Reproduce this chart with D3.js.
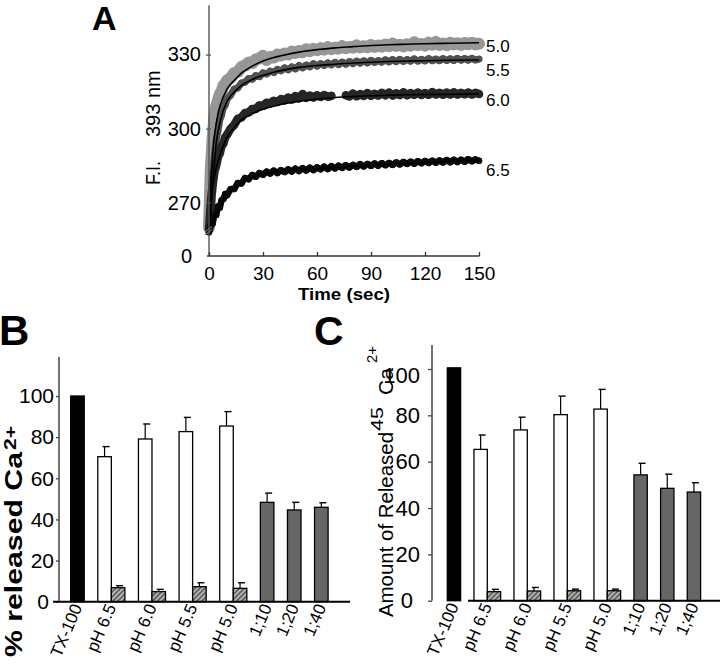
<!DOCTYPE html>
<html><head><meta charset="utf-8">
<script src="https://cdn.jsdelivr.net/npm/d3@7"></script>
<style>
body{margin:0;background:#fff;}
svg{display:block;}
text{font-family:"Liberation Sans",Arial,Helvetica,sans-serif;fill:#000;}
</style></head><body>
<svg id="chart" width="720" height="664"></svg>
<script>
// ---------- Panel A data ----------
const timeData = [0,1,2,3,4,5,6,7,8,9,10,
 12,14,16,18,20,22,24,26,28,30,
 32,34,36,38,40,42,44,46,48,50,
 52,54,56,58,60,62,64,66,68,70,
 72,74,76,78,80,82,84,86,88,90,
 92,94,96,98,100,102,104,106,108,110,
 112,114,116,118,120,122,124,126,128,130,
 132,134,136,138,140,142,144,146,148,150];
const fi50 = [260,283,296,305,309,311.5,314,315,317.5,318,319.5,
 320.5,322.5,323,325,325.5,326.8,326.5,328,328.4,329.5,
 327.8,329.1,328.8,330,329.6,330.4,330,331.2,330.6,331.4,
 331,332.1,331.4,332.3,331.8,332.6,332,333,332.2,332.8,
 332.4,333.4,332.6,333.1,332.8,333.7,332.9,333.4,333,333.9,
 333.1,333.7,333.2,334.1,333.4,334.4,333.5,334,333.3,334.2,
 333.6,335,333.8,334.3,333.6,334.8,334,335.1,333.9,334.5,
 333.8,334.8,334.1,334.6,333.9,334.7,334.2,334.8,334.1,334.4];
const fi55 = [259,270,281,289,295.5,299,303.5,305.5,308.5,309.5,312,
 313.5,316,316.5,318.5,318.8,320.3,320,321.5,321,322.6,
 322.1,323.3,322.7,324,323.4,324.6,323.8,325,324.2,325.6,
 324.6,325.8,325,326.3,325.3,326.4,325.6,326.7,325.8,326.9,
 325.9,327,326.1,327.2,326.3,327.4,326.5,327.5,326.6,327.7,
 326.8,327.6,326.9,327.9,327,328,327.1,328.1,327.2,328,
 327.3,328.3,327.3,328.1,327.4,328.4,327.5,328.2,327.5,328.4,
 327.6,328.3,327.6,328.5,327.7,328.4,327.7,328.5,327.8,328.2];
const fi60 = [259,270,277,282.5,285,288.5,290,293,294,296.5,297.5,
 300,301.5,304,304.5,306.3,306.5,308,308,309.4,309.3,
 310.5,310.2,311.3,310.8,312,311.4,312.6,311.8,313.2,312.3,
 314,312.5,313.4,312.6,313.5,312.8,313.6,312.9,313.3,null,
 null,null,313.5,313,314.2,313.1,314,313.2,314.4,313.3,
 314.1,313.4,314.5,313.5,314.6,313.4,314.3,313.6,314.7,313.5,
 314.4,313.7,314.6,313.6,314.4,313.7,314.8,313.8,314.5,313.7,
 314.6,313.8,314.7,313.8,314.5,313.9,314.6,313.8,314.5,314];
const fi65 = [258,261,261.5,265,265,268.5,268,271,271.5,273.5,273,
 275.5,275.5,278,277.8,280,279.5,281.2,280.5,282,281.3,
 282.6,281.8,283,282,283.2,282.4,283.5,282.6,283.8,282.8,
 284,283,284.2,283.2,284.3,283.5,284.6,283.6,284.8,283.9,
 285,284.1,285.2,284.3,285.3,284.5,285.6,284.7,285.7,284.9,
 285.9,285,286,285.2,286.1,285.3,286.3,285.5,286.5,285.7,
 286.6,285.8,286.8,286,286.9,286.1,287,286.2,287.1,286.3,
 287.3,286.4,287.4,286.5,287.4,286.6,287.6,286.8,287.5,287];
const timeFit = [0,1,2,3,4,5,6,7,8,9,10,12,14,16,18,20,24,28,32,36,40,50,60,70,80,90,100,110,120,135,150];
const fit50 = [258,276,289,297,302,306,309,311,313,314.5,316,318,319.5,321,322.5,323.5,325.3,326.8,327.9,328.8,329.5,331,332,332.7,333.2,333.7,334,334.2,334.4,334.6,334.8];
const fit55 = [258,268,278,286,294,298.5,302,305,307.5,309.3,311,313.2,314.8,316.2,317.4,318.4,319.9,321.1,322,322.8,323.5,324.8,325.6,326.1,326.6,326.9,327.2,327.4,327.5,327.7,327.8];
const fit60 = [258,268,276,280.5,284,286.8,289,291.2,293,294.8,296.5,298.5,300.5,302.2,303.5,304.5,306,307.3,308.3,309.1,309.8,311,312,312.6,313,313.3,313.5,313.7,313.8,313.9,314];
const fit65 = [259,260.5,262,263.8,265.5,267,268.5,269.8,271,272,273,274.5,275.8,277,278,279,280.2,281.1,281.8,282.3,282.7,283.3,283.8,284.3,284.7,285.1,285.5,285.9,286.3,286.8,287.2];
const pHNames = ["5.0","5.5","6.0","6.5"];
const aYTicks = [0,270,300,330];
const aXTicks = [0,30,60,90,120,150];

// ---------- Panels B & C data ----------
const categories = ["TX-100","pH 6.5","pH 6.0","pH 5.5","pH 5.0","1;10","1;20","1;40"];
const barTicks = [0,20,40,60,80,100];
// B: % released Ca2+
const txB = [100];
const openB = [70.5,79.1,82.7,85.4];
const openErrB = [4.9,7.3,6.9,7.0];
const hatchB = [6.8,4.9,7.3,6.5];
const hatchErrB = [1.0,1.1,1.9,2.7];
const ratioB = [48.3,44.6,45.9];
const ratioErrB = [4.5,3.7,2.2];
// C: amount of released 45Ca2+
const txC = [100.5];
const openC = [65.3,73.7,80.3,82.7];
const openErrC = [6.2,5.5,8.0,8.5];
const hatchC = [3.9,4.2,4.3,4.3];
const hatchErrC = [1.0,1.5,0.7,0.7];
const ratioC = [54.3,48.5,46.9];
const ratioErrC = [5.0,6.1,4.0];

// ---------- drawing ----------
const svg = d3.select("#chart");
const defs = svg.append("defs");
const pat = defs.append("pattern").attr("id","hatch").attr("width",3.5).attr("height",3.5)
  .attr("patternUnits","userSpaceOnUse").attr("patternTransform","rotate(45)");
pat.append("rect").attr("width",3.5).attr("height",3.5).attr("fill","#b4b4b4");
pat.append("line").attr("x1",0.8).attr("y1",0).attr("x2",0.8).attr("y2",3.5).attr("stroke","#444").attr("stroke-width",1.3);

// ===== Panel A =====
const gA = svg.append("g");
const xA = d3.scaleLinear().domain([0,150]).range([209,479]);
const yA = d3.scaleLinear().domain([0,258,350]).range([256,232.3,5.2]);

const seriesA = [
  {name:pHNames[0], data:fi50, fit:fit50, color:"#979797", w:12, r:4.2, off:3},
  {name:pHNames[1], data:fi55, fit:fit55, color:"#525252", w:7, r:3.3, off:10},
  {name:pHNames[2], data:fi60, fit:fit60, color:"#262626", w:8.5, r:3.8, off:6},
  {name:pHNames[3], data:fi65, fit:fit65, color:"#0a0a0a", w:6.5, r:3.2, off:10}
];
const lineData = d3.line().defined(d=>d[1]!=null).x(d=>xA(d[0])).y(d=>yA(d[1]));
const lineFit = d3.line().x(d=>xA(d[0])).y(d=>yA(d[1])).curve(d3.curveMonotoneX);

seriesA.forEach(s=>{
  const pts = timeData.map((t,i)=>[t,s.data[i]]);
  gA.append("path").attr("d",lineData(pts)).attr("fill","none").attr("stroke",s.color)
    .attr("stroke-width",s.w).attr("stroke-linejoin","round").attr("stroke-linecap","round");
  gA.append("g").selectAll("circle").data(pts.filter(d=>d[1]!=null)).join("circle")
    .attr("cx",d=>xA(d[0])).attr("cy",d=>yA(d[1])).attr("r",s.r).attr("fill",s.color);
});
seriesA.forEach(s=>{
  const pts = timeFit.map((t,i)=>[t,s.fit[i]]);
  gA.append("path").attr("d",lineFit(pts)).attr("fill","none").attr("stroke","#000").attr("stroke-width",1.6);
  gA.append("text").attr("x",486).attr("y",yA(s.fit[s.fit.length-1])+s.off).attr("dy","0.35em")
    .attr("font-size",17).text(s.name);
});

// axes A
const axA = gA.append("g").attr("transform","translate(209,0)")
  .call(d3.axisLeft(yA).tickValues(aYTicks).tickSizeInner(4).tickSizeOuter(0).tickPadding(4));
axA.select(".domain").remove();
axA.selectAll(".tick line").attr("stroke","#555").attr("stroke-width",1.3).attr("x2",2).attr("x1",-3);
axA.selectAll(".tick text").attr("font-size",20).attr("font-family",null);
axA.selectAll(".tick").filter(d=>d===0).select("line").remove();
axA.selectAll(".tick").filter(d=>d===0).select("text").attr("dx",-9);
gA.append("line").attr("x1",209).attr("x2",209).attr("y1",yA(350)).attr("y2",256).attr("stroke","#555").attr("stroke-width",1.4);
// axis break mark
gA.append("line").attr("x1",205).attr("y1",235).attr("x2",212).attr("y2",229.5).attr("stroke","#666").attr("stroke-width",1.2);
gA.append("line").attr("x1",205).attr("y1",232).attr("x2",212).attr("y2",226.5).attr("stroke","#666").attr("stroke-width",1.2);

const axAx = gA.append("g").attr("transform","translate(0,256)")
  .call(d3.axisBottom(xA).tickValues(aXTicks).tickSizeInner(-4).tickSizeOuter(0).tickPadding(11));
axAx.select(".domain").remove();
axAx.selectAll(".tick line").attr("stroke","#333").attr("stroke-width",1.3);
axAx.selectAll(".tick text").attr("font-size",19).attr("font-family",null);
gA.append("line").attr("x1",207).attr("x2",479.5).attr("y1",256).attr("y2",256).attr("stroke","#333").attr("stroke-width",1.6);
gA.append("text").attr("x",344).attr("y",300).attr("text-anchor","middle").attr("font-size",17)
  .attr("font-weight","bold").attr("textLength",92).attr("lengthAdjust","spacingAndGlyphs").text("Time (sec)");
gA.append("text").attr("transform","translate(160,185) rotate(-90)").attr("font-size",20)
  .attr("textLength",24).attr("lengthAdjust","spacingAndGlyphs").text("F.I.");
gA.append("text").attr("transform","translate(160,137) rotate(-90)").attr("font-size",20).text("393 nm");
gA.append("text").attr("x",92).attr("y",30).attr("font-size",34).attr("font-weight","bold").text("A");

// ===== Bar panels =====
function buildGroups(tx, open, openErr, hatch, hatchErr, ratio, ratioErr){
  const groups = [];
  groups.push({label:categories[0], bars:[{v:tx[0], e:0, kind:"tx"}]});
  open.forEach((v,i)=>groups.push({label:categories[1+i], bars:[
    {v:v, e:openErr[i], kind:"open"}, {v:hatch[i], e:hatchErr[i], kind:"hatch"}]}));
  ratio.forEach((v,i)=>groups.push({label:categories[1+open.length+i], bars:[{v:v, e:ratioErr[i], kind:"ratio"}]}));
  const slots = [];
  groups.forEach((g,gi)=>{
    g.bars.forEach((b,bi)=>{ b.id = gi+"-"+bi; slots.push(b.id); });
    if(gi<groups.length-1) slots.push("gap"+gi);
  });
  return {groups, slots};
}
const fills = {tx:"#000", open:"#fff", hatch:"url(#hatch)", ratio:"#666"};

function drawBarPanel(o){
  const g = svg.append("g");
  const {groups, slots} = buildGroups(...o.data);
  const x = d3.scaleBand().domain(slots).range(o.xr).paddingInner(0).paddingOuter(0);
  const y = d3.scaleLinear().domain([0,100]).range(o.yr);
  const bw = x.bandwidth();
  const bars = groups.flatMap(gr=>gr.bars);
  g.selectAll("rect.bar").data(bars).join("rect").attr("class","bar")
    .attr("x",d=>x(d.id)).attr("width",bw).attr("y",d=>y(d.v)).attr("height",d=>y(0)-y(d.v))
    .attr("fill",d=>fills[d.kind]).attr("stroke","#000").attr("stroke-width",1.3);
  const eb = bars.filter(d=>d.e>0);
  g.selectAll("line.err").data(eb).join("line").attr("class","err")
    .attr("x1",d=>x(d.id)+bw/2).attr("x2",d=>x(d.id)+bw/2)
    .attr("y1",d=>y(d.v)).attr("y2",d=>y(d.v+d.e)).attr("stroke","#000").attr("stroke-width",1.2);
  g.selectAll("line.cap").data(eb).join("line").attr("class","cap")
    .attr("x1",d=>x(d.id)+bw/2-2).attr("x2",d=>x(d.id)+bw/2+5)
    .attr("y1",d=>y(d.v+d.e)).attr("y2",d=>y(d.v+d.e)).attr("stroke","#000").attr("stroke-width",1.4);
  // category labels
  groups.forEach(gr=>{
    const x0 = x(gr.bars[0].id), x1 = x(gr.bars[gr.bars.length-1].id)+bw;
    const cx = (x0+x1)/2 + 5;
    g.append("text").attr("transform",`translate(${cx},${o.labelY}) rotate(-67)`)
      .attr("text-anchor","end").attr("font-size",17).text(gr.label);
  });
  // y axis
  const ax = g.append("g").attr("transform",`translate(${o.axisX},0)`)
    .call(d3.axisLeft(y).tickValues(barTicks).tickSizeInner(o.tick).tickSizeOuter(0).tickPadding(o.pad));
  ax.select(".domain").remove();
  ax.selectAll(".tick line").attr("stroke","#444").attr("stroke-width",1.3);
  ax.selectAll(".tick text").attr("font-size",o.fs).attr("font-family",null);
  ax.selectAll(".tick").filter(d=>d===0).select("text").attr("dx",o.zeroDx);
  if(o.hundredDy) ax.selectAll(".tick").filter(d=>d===100).select("text").attr("dy",o.hundredDy);
  g.append("line").attr("x1",o.axisX).attr("x2",o.axisX).attr("y1",o.axisTop).attr("y2",y(0))
    .attr("stroke","#444").attr("stroke-width",1.5);
  g.append("line").attr("x1",o.xAxisFrom).attr("x2",o.xAxisTo).attr("y1",y(0)).attr("y2",y(0))
    .attr("stroke","#000").attr("stroke-width",2);
  return g;
}

const gB = drawBarPanel({
  data:[txB, openB, openErrB, hatchB, hatchErrB, ratioB, ratioErrB],
  xr:[70.7,328.1], yr:[601.7,396], labelY:607, axisX:59, axisTop:357,
  tick:3, pad:2, fs:21, zeroDx:-5, xAxisFrom:53, xAxisTo:350
});
gB.append("text").attr("transform","translate(22,657) rotate(-90)").attr("font-size",24).attr("font-weight","bold")
  .attr("textLength",205).attr("lengthAdjust","spacingAndGlyphs").text("% released Ca");
gB.append("text").attr("transform","translate(16,450) rotate(-90)").attr("font-size",16).attr("font-weight","bold")
  .attr("textLength",24).attr("lengthAdjust","spacingAndGlyphs").text("2+");
gB.append("text").attr("x",-1).attr("y",345).attr("font-size",42).attr("font-weight","bold").text("B");

const gC = drawBarPanel({
  data:[txC, openC, openErrC, hatchC, hatchErrC, ratioC, ratioErrC],
  xr:[447.3,700.6], yr:[600.7,369], labelY:606, axisX:432, axisTop:345,
  tick:4, pad:8, fs:22, zeroDx:-7, hundredDy:"0.62em", xAxisFrom:468, xAxisTo:720
});
gC.append("text").attr("transform","translate(393,617) rotate(-90)").attr("font-size",21)
  .attr("textLength",185).attr("lengthAdjust","spacingAndGlyphs").text("Amount of Released");
gC.append("text").attr("transform","translate(383,431) rotate(-90)").attr("font-size",16)
  .attr("textLength",24).attr("lengthAdjust","spacingAndGlyphs").text("45");
gC.append("text").attr("transform","translate(393,395) rotate(-90)").attr("font-size",21).text("Ca");
gC.append("text").attr("transform","translate(377,363) rotate(-90)").attr("font-size",15)
  .attr("textLength",17).attr("lengthAdjust","spacingAndGlyphs").text("2+");
gC.append("text").attr("x",314).attr("y",345).attr("font-size",41).attr("font-weight","bold").text("C");
</script>
</body></html>
